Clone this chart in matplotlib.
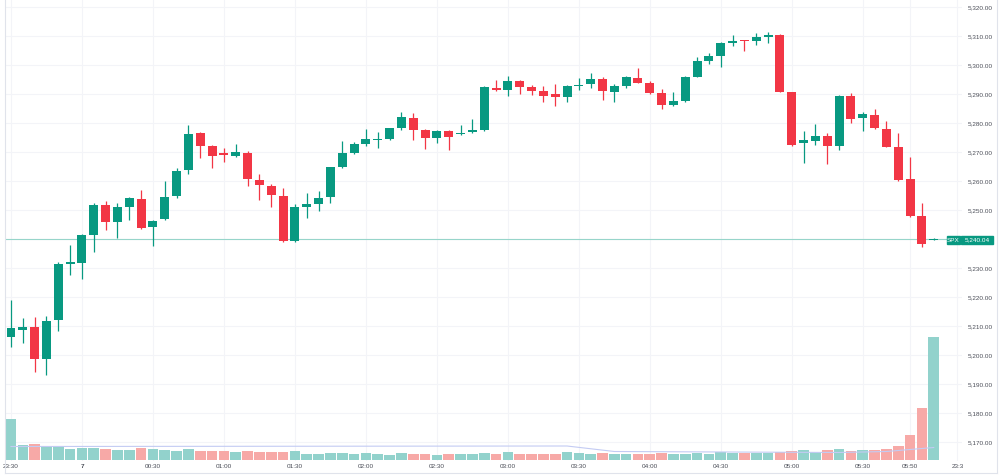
import matplotlib
matplotlib.use('Agg')
import matplotlib.pyplot as plt
from matplotlib.patches import Rectangle
from matplotlib.lines import Line2D

plt.rcParams['font.family'] = ['Liberation Sans', 'DejaVu Sans']

# 5 minute SPX candles, 23:30 -> 06:00
opens = [5206.2, 5208.6, 5209.8, 5198.5, 5212.1, 5231.4, 5231.6, 5241.4, 5251.7, 5246.0,
         5251.1, 5253.7, 5244.2, 5246.8, 5254.8, 5263.8, 5276.4, 5272.2, 5269.8, 5268.7,
         5269.8, 5260.3, 5258.3, 5254.8, 5239.3, 5251.1, 5252.1, 5254.6, 5264.9, 5269.5,
         5272.9, 5274.3, 5274.4, 5278.2, 5281.8, 5277.6, 5274.9, 5277.3, 5276.1, 5276.8,
         5277.6, 5292.2, 5291.4, 5294.6, 5292.3, 5290.9, 5289.9, 5288.9, 5292.9, 5293.3,
         5295.2, 5290.8, 5292.8, 5295.6, 5293.7, 5290.2, 5286.2, 5287.6, 5296.0, 5301.5,
         5303.2, 5307.7, 5308.5, 5308.3, 5309.8, 5310.3, 5290.6, 5273.0, 5273.9, 5275.5,
         5272.1, 5289.3, 5281.6, 5282.8, 5277.9, 5271.6, 5260.6, 5247.9, 5239.6]
highs = [5219.0, 5212.8, 5213.2, 5213.6, 5232.2, 5237.9, 5241.6, 5252.3, 5253.2, 5252.3,
         5254.4, 5256.9, 5246.6, 5260.1, 5264.4, 5279.3, 5276.8, 5272.4, 5271.5, 5272.8,
         5270.4, 5262.4, 5259.0, 5257.5, 5252.0, 5255.8, 5256.7, 5265.0, 5273.9, 5273.6,
         5277.8, 5277.0, 5278.4, 5283.9, 5283.6, 5277.8, 5277.6, 5277.6, 5279.3, 5281.4,
         5292.9, 5294.8, 5296.3, 5294.8, 5293.1, 5292.8, 5293.3, 5293.1, 5295.4, 5297.3,
         5295.8, 5293.3, 5296.2, 5298.9, 5294.5, 5291.6, 5290.8, 5296.2, 5302.7, 5304.2,
         5308.0, 5310.3, 5308.7, 5311.1, 5311.5, 5310.7, 5290.8, 5277.3, 5279.6, 5276.4,
         5289.5, 5290.2, 5283.9, 5284.7, 5280.7, 5276.4, 5268.2, 5252.3, 5240.2]
lows = [5202.8, 5204.1, 5194.2, 5193.1, 5208.4, 5227.6, 5226.1, 5235.6, 5243.1, 5240.2,
        5246.6, 5243.5, 5237.6, 5246.5, 5254.0, 5262.4, 5267.9, 5264.6, 5266.7, 5268.2,
        5258.3, 5253.4, 5251.1, 5239.0, 5239.0, 5247.1, 5249.7, 5252.3, 5264.6, 5269.2,
        5272.1, 5271.3, 5274.1, 5277.6, 5274.1, 5270.9, 5273.0, 5270.7, 5275.9, 5276.6,
        5277.4, 5291.2, 5289.3, 5290.0, 5289.7, 5287.3, 5285.9, 5287.3, 5291.4, 5292.0,
        5287.9, 5287.1, 5292.0, 5293.7, 5290.0, 5284.7, 5286.0, 5287.4, 5295.8, 5300.3,
        5299.4, 5306.6, 5304.9, 5306.9, 5307.5, 5290.6, 5272.0, 5266.1, 5272.4, 5265.9,
        5270.7, 5280.1, 5277.2, 5278.0, 5271.6, 5260.1, 5247.5, 5237.3, 5239.5]
closes = [5209.3, 5209.7, 5198.5, 5211.8, 5231.3, 5232.2, 5241.4, 5251.7, 5246.0, 5251.1,
          5254.0, 5243.9, 5246.3, 5254.6, 5263.6, 5276.1, 5272.1, 5268.6, 5268.9, 5269.9,
          5260.6, 5258.6, 5255.2, 5239.3, 5251.1, 5252.0, 5254.0, 5264.9, 5269.5, 5272.8,
          5274.5, 5274.6, 5278.2, 5282.0, 5277.6, 5274.9, 5277.3, 5275.3, 5276.7, 5277.6,
          5292.5, 5291.4, 5294.6, 5292.3, 5290.9, 5289.3, 5288.9, 5292.8, 5293.2, 5295.2,
          5291.0, 5292.9, 5295.8, 5293.9, 5290.2, 5286.2, 5287.7, 5296.0, 5301.5, 5303.2,
          5307.7, 5308.3, 5308.2, 5309.6, 5310.3, 5290.8, 5272.4, 5274.1, 5275.5, 5272.2,
          5289.3, 5281.4, 5283.1, 5278.2, 5271.8, 5260.3, 5248.0, 5238.3, 5240.04]
# relative volume
volumes = [40.7, 15.0, 15.7, 13.3, 13.0, 11.3, 12.0, 12.3, 11.0, 10.3,
           10.3, 11.7, 11.0, 10.3, 9.3, 10.7, 9.0, 8.7, 8.7, 8.0,
           8.7, 8.0, 7.7, 8.0, 8.7, 6.3, 6.3, 7.0, 7.3, 6.0,
           6.7, 6.0, 5.3, 7.0, 6.0, 6.0, 5.3, 6.0, 5.7, 5.7,
           7.3, 6.3, 8.3, 6.0, 6.0, 6.0, 5.7, 7.7, 6.7, 6.3,
           7.0, 5.7, 5.7, 5.7, 6.0, 6.7, 6.0, 6.0, 7.3, 6.0,
           8.0, 7.0, 6.7, 6.7, 6.7, 7.7, 8.7, 10.0, 8.3, 10.0,
           10.7, 8.7, 9.7, 9.7, 11.0, 13.7, 24.7, 52.3, 123.3]
# volume moving average (vertices)
ma_bars = [0, 47, 51, 70, 74, 78]
ma_values = [13.5, 14.0, 8.5, 7.5, 8.5, 12.5]

time_ticks = [0, 6, 12, 18, 24, 30, 36, 42, 48, 54, 60, 66, 72, 76, 80]
time_labels = ['23:30', '7', '00:30', '01:00', '01:30', '02:00', '02:30', '03:00',
               '03:30', '04:00', '04:30', '05:00', '05:30', '05:50', '23:3']
price_ticks = list(range(5170, 5330, 10))
last_price = 5240.04

UP = '#089981'
DOWN = '#f23645'
UP_VOL = '#92d2cc'
DOWN_VOL = '#f7a9a7'
W, H = 1000, 475
STEP = 11.83  # px per bar

fig = plt.figure(figsize=(10, 4.75), dpi=100)
rect = [5 / W, 1 - 461 / H, (962 - 5) / W, 461 / H]
ax = fig.add_axes(rect)
vax = fig.add_axes(rect, sharex=ax)
vax.patch.set_visible(False)

ax.set_xlim((5 - 11) / STEP, (962 - 11) / STEP)
ax.set_ylim(5320 - (461 - 7) / 2.9, 5320 + 7 / 2.9)
vax.set_ylim(-1, 460)

for i in range(len(opens)):
    o, h, l, c = opens[i], highs[i], lows[i], closes[i]
    col = UP if c >= o else DOWN
    ax.plot([i, i], [l, h], color=col, lw=0.9, zorder=3, solid_capstyle='butt')
    ax.bar(i, max(abs(c - o), 0.35), bottom=min(o, c), width=0.76, color=col,
           lw=0, zorder=4)
    vax.bar(i, volumes[i], width=0.9, color=UP_VOL if c >= o else DOWN_VOL, lw=0)

vax.plot(ma_bars, ma_values, color='#c3cbf3', lw=0.8)

ax.axhline(last_price, color='#97d5ca', lw=0.8, zorder=2)

ax.set_yticks(price_ticks)
# the 5,240.00 label sits under the last price tag
ax.set_yticklabels(['' if p == 5240 else '{:,.2f}'.format(p) for p in price_ticks])
ax.yaxis.tick_right()
ax.set_xticks(time_ticks)
ax.set_xticklabels(time_labels)
for lab in ax.get_xticklabels():
    if lab.get_text() == '7':
        lab.set_fontweight('bold')
ax.tick_params(length=0, labelsize=4.6, labelcolor='#4a4d57', pad=2.5)
ax.tick_params(axis='y', pad=3.8)
ax.grid(color='#f3f4f8', lw=0.8, zorder=0)
ax.set_axisbelow(True)
vax.tick_params(left=False, right=False, bottom=False, labelleft=False,
                labelbottom=False)
for a in (ax, vax):
    for s in a.spines.values():
        s.set_visible(False)

# frame lines (pixel coords)
def px_line(x0, y0, x1, y1):
    fig.add_artist(Line2D([x0 / W, x1 / W], [1 - y0 / H, 1 - y1 / H],
                          color='#e0e3eb', lw=0.8, transform=fig.transFigure))

px_line(5, 0, 5, 473)
px_line(5, 473, 997, 473)
px_line(997, 0, 997, 473)

# last price tag
def px_box(x, y, w, h, txt):
    fig.add_artist(Rectangle((x / W, 1 - (y + h) / H), w / W, h / H, color=UP,
                             transform=fig.transFigure, zorder=10))
    fig.text((x + w / 2) / W, 1 - (y + h / 2) / H, txt, color='white', fontsize=4.6,
             ha='center', va='center', zorder=11)

px_box(947, 236.5, 13, 7.5, 'SPX')
px_box(961, 236.5, 32, 7.5, '{:,.2f}'.format(last_price))

fig.savefig('out.png', dpi=100)
